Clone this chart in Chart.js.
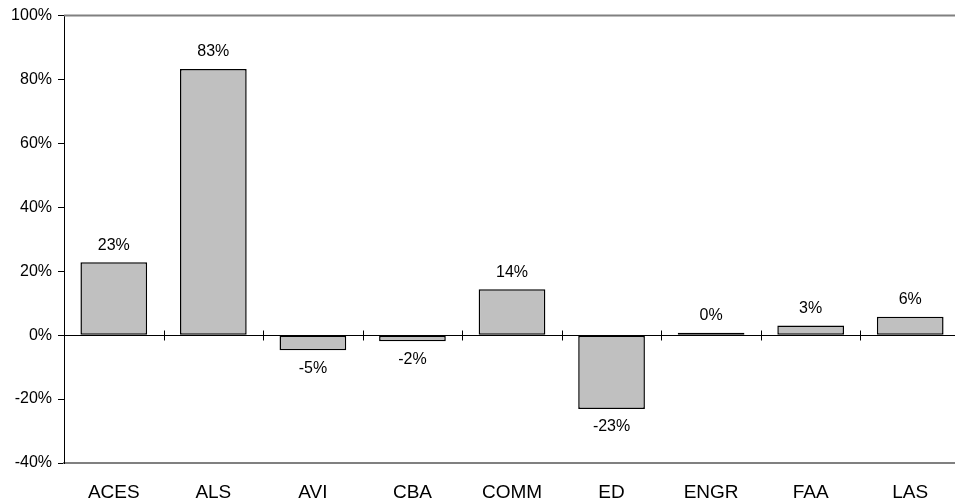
<!DOCTYPE html>
<html>
<head>
<meta charset="utf-8">
<script src="https://cdn.jsdelivr.net/npm/chart.js@4/dist/chart.umd.min.js"></script>
<style>
  html, body { margin: 0; padding: 0; background: #fff; overflow: hidden; }
  #wrap { width: 962px; height: 504px; position: relative; }
</style>
</head>
<body>
<div id="wrap"><canvas id="chart"></canvas></div>
<script>
const categories = ['ACES', 'ALS', 'AVI', 'CBA', 'COMM', 'ED', 'ENGR', 'FAA', 'LAS'];
const changes = [22.8, 83.3, -4.7, -1.9, 14.4, -23.1, 0.2, 3.0, 5.8];
const yTicks = [-40, -20, 0, 20, 40, 60, 80, 100];

const FONT = 'Arial, "Liberation Sans", sans-serif';

// zero line with category separators, top frame line, value labels
const decorations = {
  id: 'decorations',
  afterDatasetsDraw(chart) {
    const { ctx, chartArea, scales: { x, y } } = chart;
    const y0 = Math.round(y.getPixelForValue(0)) + 0.5;
    ctx.save();
    ctx.strokeStyle = '#808080';
    ctx.lineWidth = 2;
    ctx.beginPath();
    ctx.moveTo(chartArea.left, chartArea.top);
    ctx.lineTo(chartArea.right, chartArea.top);
    ctx.stroke();

    ctx.strokeStyle = '#000';
    ctx.lineWidth = 1;
    ctx.beginPath();
    ctx.moveTo(chartArea.left, y0);
    ctx.lineTo(chartArea.right, y0);
    for (let i = 0; i < categories.length - 1; i++) {
      const bx = Math.round((x.getPixelForValue(i) + x.getPixelForValue(i + 1)) / 2) + 0.5;
      ctx.moveTo(bx, y0 - 5);
      ctx.lineTo(bx, y0 + 5);
    }
    ctx.stroke();

    ctx.fillStyle = '#000';
    ctx.font = '16px ' + FONT;
    ctx.textAlign = 'center';
    const meta = chart.getDatasetMeta(0);
    meta.data.forEach((bar, i) => {
      const v = changes[i];
      const txt = Math.round(v) + '%';
      if (v >= 0) {
        ctx.textBaseline = 'bottom';
        ctx.fillText(txt, bar.x, bar.y - 9);
      } else {
        ctx.textBaseline = 'top';
        ctx.fillText(txt, bar.x, bar.y + 10);
      }
    });
    ctx.restore();
  }
};

new Chart(document.getElementById('chart'), {
  type: 'bar',
  data: {
    labels: categories,
    datasets: [{
      data: changes,
      backgroundColor: '#c0c0c0',
      borderColor: '#000',
      borderWidth: 1.5,
      borderSkipped: false,
      minBarLength: 2.5,
      categoryPercentage: 1,
      barPercentage: 0.67,
    }],
  },
  options: {
    responsive: true,
    maintainAspectRatio: false,
    animation: false,
    layout: { padding: { top: 15, right: 2, left: 0, bottom: 0 } },
    plugins: {
      legend: { display: false },
      tooltip: { enabled: false },
    },
    scales: {
      x: {
        grid: { display: false },
        border: { color: '#808080', width: 2 },
        ticks: { color: '#000', font: { family: FONT, size: 19 }, padding: 10 },
        afterFit: s => { s.height = 41; },
      },
      y: {
        min: -40,
        max: 100,
        afterBuildTicks: s => { s.ticks = yTicks.map(v => ({ value: v })); },
        grid: { drawOnChartArea: false, color: '#000', tickLength: 6 },
        border: { color: '#000', width: 1 },
        ticks: {
          color: '#000',
          font: { family: FONT, size: 16 },
          padding: 6,
          callback: v => v + '%',
        },
        afterFit: s => { s.width = 64; },
      },
    },
  },
  plugins: [decorations],
});
</script>
</body>
</html>
